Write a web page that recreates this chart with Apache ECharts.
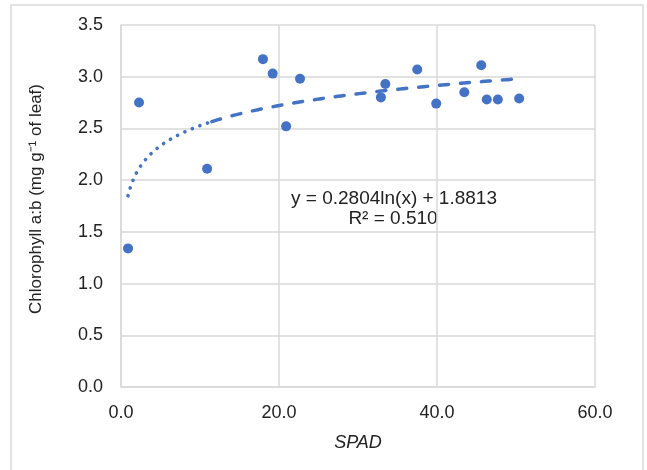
<!DOCTYPE html>
<html>
<head>
<meta charset="utf-8">
<script src="https://cdn.jsdelivr.net/npm/echarts@6/dist/echarts.min.js"></script>
<style>
  html, body { margin: 0; padding: 0; background: #fff; }
  #chart { width: 647px; height: 470px; }
</style>
</head>
<body>
<div id="chart"></div>
<script>
// SPAD readings and chlorophyll a:b ratio
const spad = [0.89, 2.28, 10.9, 17.97, 19.2, 20.9, 22.66, 32.9, 33.46, 37.5, 39.9, 43.46, 45.6, 46.3, 47.7, 50.4]
const chlAB = [1.34, 2.75, 2.11, 3.17, 3.03, 2.52, 2.98, 2.80, 2.93, 3.07, 2.74, 2.85, 3.11, 2.78, 2.78, 2.79]

// log trendline as printed on the chart: y = a ln(x) + b
const trendA = 0.2804
const trendB = 1.8813
const trendR2 = '0.510'
const dotEnd = 11.5 // the Excel line looks dotted up to here, dashed after

const xTicks = [0, 20, 40, 60]
const yTicks = [0, 0.5, 1, 1.5, 2, 2.5, 3, 3.5]

const blue = '#4472c4'
const grey = '#d9d9d9'
const ink = '#222'
const font = '"Liberation Sans", Arial, sans-serif'

function trendPoints (from, to, steps) {
    const pts = []
    for (let i = 0; i <= steps; i++) {
        const x = from + (to - from) * i / steps
        pts.push([x, trendA * Math.log(x) + trendB])
    }
    return pts
}

const xMin = Math.min(...spad)
const xMax = Math.max(...spad)

const chart = echarts.init(document.getElementById('chart'))
chart.setOption({
    animation: false,
    grid: { left: 121, right: 52, top: 25, bottom: 83 },
    xAxis: {
        type: 'value',
        min: xTicks[0],
        max: xTicks[xTicks.length - 1],
        interval: xTicks[1] - xTicks[0],
        name: 'SPAD',
        nameLocation: 'middle',
        nameGap: 47,
        nameTextStyle: { fontFamily: font, fontSize: 18, fontStyle: 'italic', color: ink },
        axisLine: { show: true, lineStyle: { color: grey, width: 1.5 } },
        axisTick: { show: false },
        axisLabel: {
            margin: 17,
            fontFamily: font, fontSize: 18, color: ink,
            formatter: v => v.toFixed(1)
        },
        splitLine: { show: true, lineStyle: { color: grey, width: 1.5 } }
    },
    yAxis: {
        type: 'value',
        min: yTicks[0],
        max: yTicks[yTicks.length - 1],
        interval: yTicks[1] - yTicks[0],
        name: 'Chlorophyll a:b (mg g\u207B\u00B9 of leaf)',
        nameLocation: 'middle',
        nameRotate: 90,
        nameGap: 76,
        nameTextStyle: { fontFamily: font, fontSize: 17, color: ink, padding: [0, 0, 0, 14] },
        axisLine: { show: true, lineStyle: { color: grey, width: 1.5 } },
        axisTick: { show: false },
        axisLabel: {
            margin: 18,
            fontFamily: font, fontSize: 18, color: ink,
            formatter: v => v.toFixed(1)
        },
        splitLine: { show: true, lineStyle: { color: grey, width: 1.5 } }
    },
    graphic: [
        {
            type: 'rect',
            shape: { x: 11, y: 5, width: 632, height: 480 },
            style: { fill: 'none', stroke: grey, lineWidth: 1.5 },
            silent: true
        },
        {
            type: 'text', x: 394, y: 199,
            style: {
                text: 'y = ' + trendA + 'ln(x) + ' + trendB,
                fontFamily: font, fontSize: 19, fill: ink,
                textAlign: 'center', textVerticalAlign: 'middle'
            }
        },
        {
            type: 'text', x: 393, y: 219,
            style: {
                text: 'R\u00B2 = ' + trendR2,
                fontFamily: font, fontSize: 19, fill: ink,
                textAlign: 'center', textVerticalAlign: 'middle'
            }
        }
    ],
    series: [
        {
            type: 'scatter',
            data: spad.map((x, i) => [x, chlAB[i]]),
            symbolSize: 10,
            itemStyle: { color: blue, opacity: 1 },
            z: 2
        },
        {
            type: 'line',
            data: trendPoints(xMin, dotEnd, 120),
            showSymbol: false,
            lineStyle: { color: blue, width: 3.6, type: [0.1, 8], cap: 'round' },
            z: 3
        },
        {
            type: 'line',
            data: trendPoints(dotEnd, xMax, 200),
            showSymbol: false,
            lineStyle: { color: blue, width: 3.5, type: [9, 12], cap: 'round' },
            z: 3
        }
    ]
})
</script>
</body>
</html>
